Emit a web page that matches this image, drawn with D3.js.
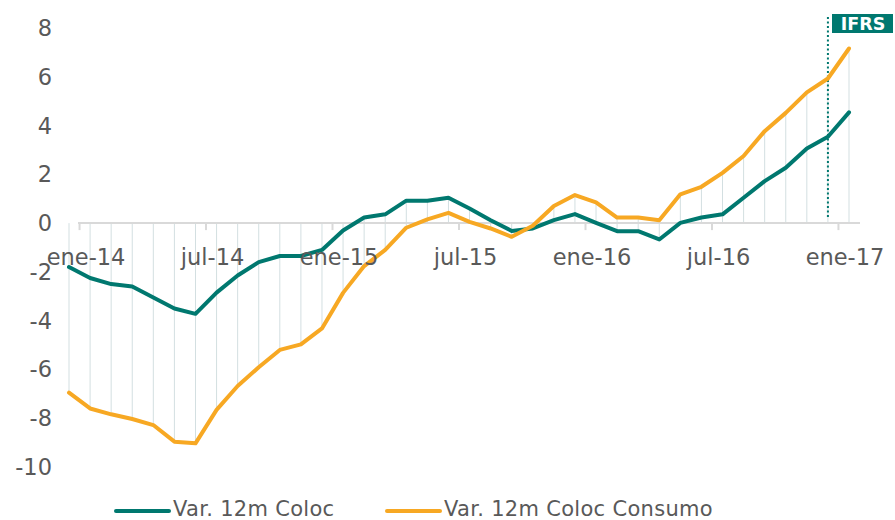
<!DOCTYPE html>
<html>
<head>
<meta charset="utf-8">
<script src="https://cdn.jsdelivr.net/npm/d3@7"></script>
<style>
  body { margin: 0; background: #fff; }
  text { font-family: "DejaVu Sans", Verdana, sans-serif; }
</style>
</head>
<body>
<svg width="895" height="520"></svg>
<script>
// meses dic-13 .. ene-17
const months = ["dic-13",
  "ene-14","feb-14","mar-14","abr-14","may-14","jun-14","jul-14","ago-14","sep-14","oct-14","nov-14","dic-14",
  "ene-15","feb-15","mar-15","abr-15","may-15","jun-15","jul-15","ago-15","sep-15","oct-15","nov-15","dic-15",
  "ene-16","feb-16","mar-16","abr-16","may-16","jun-16","jul-16","ago-16","sep-16","oct-16","nov-16","dic-16",
  "ene-17"];

const coloc = [-1.8, -2.25, -2.5, -2.6, -3.05, -3.5, -3.72, -2.85, -2.15, -1.6, -1.35, -1.35, -1.1,
  -0.3, 0.23, 0.36, 0.92, 0.92, 1.04, 0.6, 0.12, -0.32, -0.22, 0.12, 0.37,
  0.01, -0.33, -0.33, -0.67, 0.01, 0.23, 0.36, 1.04, 1.72, 2.27, 3.06, 3.54, 4.54];

const consumo = [-6.95, -7.6, -7.84, -8.03, -8.28, -8.96, -9.03, -7.66, -6.68, -5.91, -5.2, -4.97, -4.32,
  -2.86, -1.76, -1.1, -0.19, 0.15, 0.42, 0.05, -0.22, -0.56, -0.11, 0.7, 1.15,
  0.85, 0.23, 0.23, 0.12, 1.18, 1.49, 2.06, 2.75, 3.77, 4.52, 5.36, 5.93, 7.16];

const yTicks = [-10, -8, -6, -4, -2, 0, 2, 4, 6, 8];
const xLabels = ["ene-14", "jul-14", "ene-15", "jul-15", "ene-16", "jul-16", "ene-17"];
const seriesNames = ["Var. 12m Coloc", "Var. 12m Coloc Consumo"];
const ifrsMonth = "dic-16";

const teal = "#00786f";
const orange = "#f7a823";
const grey = "#595959";

const svg = d3.select("svg");

const x = d3.scalePoint().domain(months).range([69, 849]);
const y = d3.scaleLinear().domain([-10, 8]).range([467, 28]);
const step = x.step();

// lineas de caida
svg.append("g")
  .selectAll("line")
  .data(months)
  .join("line")
  .attr("x1", d => x(d))
  .attr("x2", d => x(d))
  .attr("y1", (d, i) => y(Math.min(0, coloc[i], consumo[i])))
  .attr("y2", (d, i) => y(Math.max(0, coloc[i], consumo[i])))
  .attr("stroke", "#d3dfe1")
  .attr("stroke-width", 1);

// eje x
svg.append("line")
  .attr("x1", 78).attr("x2", 860)
  .attr("y1", y(0)).attr("y2", y(0))
  .attr("stroke", "#d9d9d9").attr("stroke-width", 2);

svg.append("g")
  .selectAll("line")
  .data(months.filter((d, i) => i % 6 === 0))
  .join("line")
  .attr("x1", d => x(d) + step / 2)
  .attr("x2", d => x(d) + step / 2)
  .attr("y1", y(0))
  .attr("y2", y(0) + 7)
  .attr("stroke", "#d9d9d9").attr("stroke-width", 2);

// eje y
svg.append("g")
  .selectAll("text")
  .data(yTicks)
  .join("text")
  .text(d => d)
  .attr("x", 52)
  .attr("y", d => y(d) + 8)
  .attr("text-anchor", "end")
  .attr("font-size", 22.5)
  .attr("fill", grey);

// IFRS
const xi = x(ifrsMonth);
svg.append("line")
  .attr("x1", xi).attr("x2", xi)
  .attr("y1", 17).attr("y2", y(0) - 4)
  .attr("stroke", teal)
  .attr("stroke-width", 2)
  .attr("stroke-dasharray", "2,2.5");
svg.append("rect")
  .attr("x", 832).attr("y", 14)
  .attr("width", 61).attr("height", 19)
  .attr("fill", teal);
svg.append("text")
  .text("IFRS")
  .attr("x", 863).attr("y", 30)
  .attr("text-anchor", "middle")
  .attr("font-size", 17.5)
  .attr("font-weight", "bold")
  .attr("fill", "#fff");

// series
const line = d3.line()
  .x((d, i) => x(months[i]))
  .y(d => y(d));

svg.append("path")
  .attr("d", line(coloc))
  .attr("fill", "none")
  .attr("stroke", teal)
  .attr("stroke-width", 4)
  .attr("stroke-linejoin", "round")
  .attr("stroke-linecap", "round");

svg.append("path")
  .attr("d", line(consumo))
  .attr("fill", "none")
  .attr("stroke", orange)
  .attr("stroke-width", 4)
  .attr("stroke-linejoin", "round")
  .attr("stroke-linecap", "round");

// etiquetas del eje x
svg.append("g")
  .selectAll("text")
  .data(xLabels)
  .join("text")
  .text(d => d)
  .attr("x", d => x(d) - 4)
  .attr("y", 265)
  .attr("text-anchor", "middle")
  .attr("font-size", 22.5)
  .attr("fill", grey);

// leyenda
const legend = svg.append("g");
const legendX = [116, 387];
const colors = [teal, orange];
seriesNames.forEach((name, i) => {
  legend.append("line")
    .attr("x1", legendX[i]).attr("x2", legendX[i] + 53)
    .attr("y1", 511).attr("y2", 511)
    .attr("stroke", colors[i])
    .attr("stroke-width", 4)
    .attr("stroke-linecap", "round");
  legend.append("text")
    .text(name)
    .attr("x", legendX[i] + 57)
    .attr("y", 516)
    .attr("font-size", 21)
    .attr("letter-spacing", 0.3)
    .attr("fill", grey);
});
</script>
</body>
</html>
